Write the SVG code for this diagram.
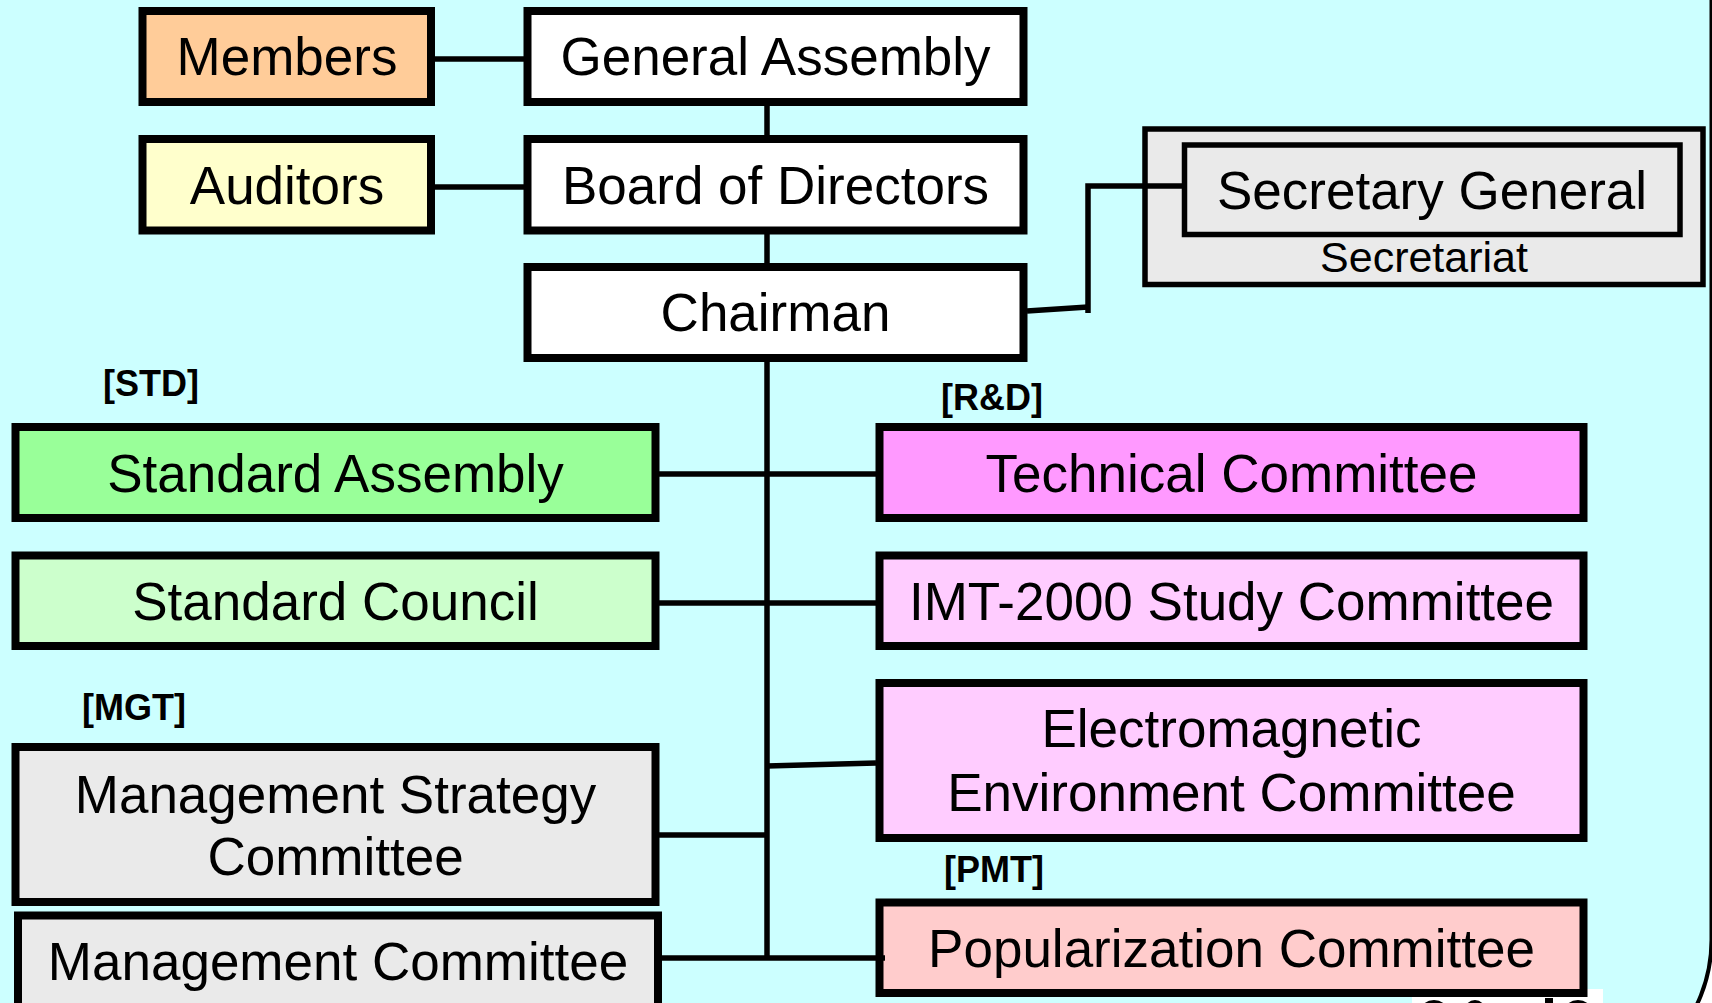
<svg xmlns="http://www.w3.org/2000/svg" width="1712" height="1003" viewBox="0 0 1712 1003">
<style>
.box{stroke:#000;stroke-width:8}
.sec{stroke:#000;stroke-width:5.5}
.t{font-family:"Liberation Sans",Arial,sans-serif;font-size:53px;fill:#000;text-anchor:middle}
.s{font-size:43px}
.lbl{font-family:"Liberation Sans",Arial,sans-serif;font-size:36px;font-weight:bold;fill:#000}
.c{stroke:#000;stroke-width:5.5;fill:none}
</style>
<rect x="0" y="0" width="1712" height="1003" fill="#fff"/>
<rect x="-20" y="-200" width="1731.5" height="1290" rx="150" ry="150" fill="#CCFFFF" stroke="#000" stroke-width="4"/>
<g id="logo">
<rect x="1412" y="989" width="191" height="20" fill="#fff"/>
<ellipse cx="1434" cy="1012" rx="14" ry="12" fill="#000"/>
<ellipse cx="1475" cy="1012" rx="11" ry="12" fill="#000"/>
<rect x="1545" y="998" width="8" height="10" fill="#000"/>
<ellipse cx="1578" cy="1012" rx="14" ry="12" fill="#000"/>
</g>
<g id="members"><rect class="box" x="142.5" y="11" width="288.5" height="91" fill="#FFCC99"/><text class="t" x="287" y="75">Members</text></g>
<g id="general-assembly"><rect class="box" x="527.5" y="11" width="496" height="91" fill="#fff"/><text class="t" x="775.5" y="75">General Assembly</text></g>
<g id="auditors"><rect class="box" x="142.5" y="139" width="288.5" height="91.5" fill="#FFFFCC"/><text class="t" x="287" y="204">Auditors</text></g>
<g id="board"><rect class="box" x="527.5" y="139" width="496" height="91.5" fill="#fff"/><text class="t" x="775.5" y="204">Board of Directors</text></g>
<g id="chairman"><rect class="box" x="527.5" y="267" width="496" height="91" fill="#fff"/><text class="t" x="775.5" y="331">Chairman</text></g>
<g id="secretariat"><rect class="sec" x="1145" y="129" width="558" height="155.5" fill="#EAEAEA"/><text class="t s" x="1424" y="272">Secretariat</text></g>
<g id="secretary-general"><rect class="sec" x="1184.5" y="145" width="495.5" height="89.5" fill="#EAEAEA"/><text class="t" x="1432" y="208.5">Secretary General</text></g>
<g id="label-std"><text class="lbl" x="103" y="396">[STD]</text></g>
<g id="label-rd"><text class="lbl" x="941" y="410">[R&amp;D]</text></g>
<g id="label-mgt"><text class="lbl" x="82" y="720">[MGT]</text></g>
<g id="label-pmt"><text class="lbl" x="944" y="882">[PMT]</text></g>
<g id="standard-assembly"><rect class="box" x="15.5" y="427" width="640" height="91" fill="#99FF99"/><text class="t" x="335.5" y="491.5">Standard Assembly</text></g>
<g id="standard-council"><rect class="box" x="15.5" y="555.5" width="640" height="90.5" fill="#CCFFCC"/><text class="t" x="335.5" y="620">Standard Council</text></g>
<g id="mgmt-strategy"><rect class="box" x="15.5" y="747" width="640" height="155" fill="#EAEAEA"/><text class="t" x="335.5" y="813">Management Strategy</text><text class="t" x="335.5" y="875">Committee</text></g>
<g id="mgmt-committee"><rect class="box" x="18" y="915.5" width="640" height="130" fill="#EAEAEA"/><text class="t" x="338" y="980">Management Committee</text></g>
<g id="technical"><rect class="box" x="879.5" y="427" width="704" height="91" fill="#FF99FF"/><text class="t" x="1231.5" y="491.5">Technical Committee</text></g>
<g id="imt2000"><rect class="box" x="879.5" y="555.5" width="704" height="90.5" fill="#FFCCFF"/><text class="t" x="1231.5" y="620">IMT-2000 Study Committee</text></g>
<g id="electromagnetic"><rect class="box" x="879.5" y="683" width="704" height="155" fill="#FFCCFF"/><text class="t" x="1231.5" y="747">Electromagnetic</text><text class="t" x="1231.5" y="811">Environment Committee</text></g>
<g id="popularization"><rect class="box" x="879.5" y="902.5" width="704" height="90.5" fill="#FFCCCC"/><text class="t" x="1231.5" y="967">Popularization Committee</text></g>
<g id="connectors">
<line class="c" x1="435" y1="59" x2="524" y2="59" stroke-width="6"/>
<line class="c" x1="435" y1="187" x2="524" y2="187" stroke-width="6"/>
<line class="c" x1="767" y1="106" x2="767" y2="135"/>
<line class="c" x1="767" y1="234" x2="767" y2="263"/>
<line class="c" x1="767" y1="362" x2="767" y2="958"/>
<line class="c" x1="659" y1="474" x2="876" y2="474"/>
<line class="c" x1="659" y1="603" x2="876" y2="603"/>
<line class="c" x1="767" y1="766" x2="876" y2="763"/>
<line class="c" x1="659" y1="835" x2="767" y2="835"/>
<line class="c" x1="662" y1="958" x2="885" y2="958"/>
<polyline class="c" points="1027,311 1088,307"/>
<polyline class="c" points="1088,313 1088,186 1182,186"/>
</g>
</svg>
